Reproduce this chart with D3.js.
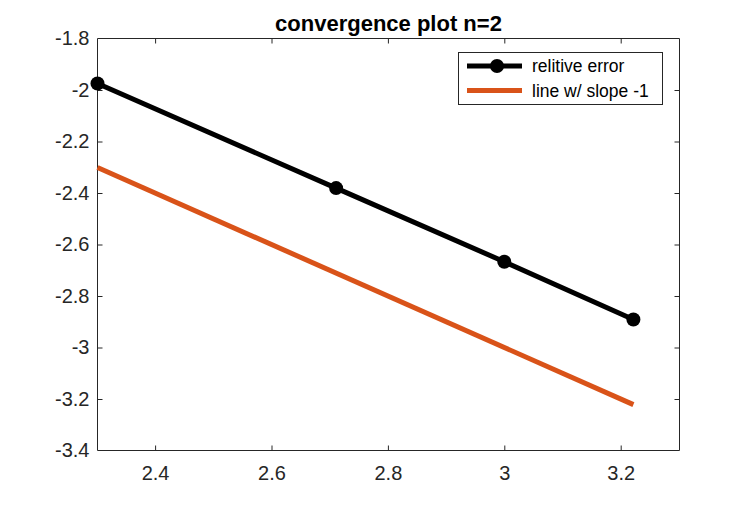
<!DOCTYPE html>
<html><head><meta charset="utf-8">
<script src="https://cdn.jsdelivr.net/npm/d3@7"></script>
<style>body{margin:0;background:#fff;}svg{display:block;}</style>
</head><body>
<svg id="c" width="750" height="506"></svg>
<script>
const xValues = [2.30103, 2.711, 3.0, 3.2218];
const errValues = [-1.975, -2.381, -2.667, -2.891];
const slopeX = [2.30103, 3.2218];
const slopeY = [-2.30103, -3.2218];
const xTicks = [2.4, 2.6, 2.8, 3, 3.2];
const yTicks = [-3.4, -3.2, -3, -2.8, -2.6, -2.4, -2.2, -2, -1.8];
const legendLabels = ["relitive error", "line w/ slope -1"];
const colors = ["#000000", "#D95319"];

const L = 97.5, R = 679.5, T = 38.5, B = 450.5;
const svg = d3.select("#c");
const x = d3.scaleLinear().domain([2.30103, 3.30103]).range([L, R]);
const y = d3.scaleLinear().domain([-3.4, -1.8]).range([B, T]);
const font = "'Liberation Sans', Arial, Helvetica, sans-serif";
const tc = "#262626";

const fmt = d => String(d);
const xb = svg.append("g").attr("transform", `translate(0,${B})`)
  .call(d3.axisBottom(x).tickValues(xTicks).tickSize(-5).tickPadding(15).tickFormat(fmt));
const xt = svg.append("g").attr("transform", `translate(0,${T})`)
  .call(d3.axisTop(x).tickValues(xTicks).tickSize(-5).tickFormat(""));
const yl = svg.append("g").attr("transform", `translate(${L},0)`)
  .call(d3.axisLeft(y).tickValues(yTicks).tickSize(-5).tickPadding(8).tickFormat(fmt));
const yr = svg.append("g").attr("transform", `translate(${R},0)`)
  .call(d3.axisRight(y).tickValues(yTicks).tickSize(-5).tickFormat(""));
[xb, xt, yl, yr].forEach(g => {
  g.selectAll("path.domain").attr("stroke", tc).attr("stroke-width", 1)
    .attr("d", g === xb || g === xt ? `M${L},0H${R}` : `M0,${T}V${B}`);
  g.selectAll(".tick line").attr("stroke", tc);
  g.selectAll(".tick text").attr("fill", tc).attr("font-family", font).attr("font-size", 20);
});
yl.selectAll(".tick line").filter(d => d === -3.4 || d === -1.8).remove();
yr.selectAll(".tick line").filter(d => d === -3.4 || d === -1.8).remove();

const line = d3.line().x(d => x(d[0])).y(d => y(d[1]));
const g = svg.append("g");
g.append("path").datum(slopeX.map((v, i) => [v, slopeY[i]]))
  .attr("d", line).attr("fill", "none").attr("stroke", colors[1]).attr("stroke-width", 5);
g.append("path").datum(xValues.map((v, i) => [v, errValues[i]]))
  .attr("d", line).attr("fill", "none").attr("stroke", colors[0]).attr("stroke-width", 5);
g.selectAll("circle.m").data(xValues.map((v, i) => [v, errValues[i]])).enter()
  .append("circle").attr("cx", d => x(d[0])).attr("cy", d => y(d[1])).attr("r", 7)
  .attr("fill", colors[0]);

svg.append("text").attr("x", (L + R) / 2).attr("y", 31).attr("text-anchor", "middle")
  .attr("font-family", font).attr("font-weight", "bold").attr("font-size", 22)
  .attr("fill", "#000").text("convergence plot n=2");

const lg = svg.append("g");
lg.append("rect").attr("x", 458.5).attr("y", 52.5).attr("width", 204).attr("height", 52)
  .attr("fill", "#fff").attr("stroke", tc).attr("stroke-width", 1);
legendLabels.forEach((lab, i) => {
  const yy = 66 + i * 24.5;
  lg.append("line").attr("x1", 467).attr("x2", 522).attr("y1", yy).attr("y2", yy)
    .attr("stroke", colors[i]).attr("stroke-width", 5);
  if (i === 0) lg.append("circle").attr("cx", 497).attr("cy", yy).attr("r", 7).attr("fill", colors[0]);
  lg.append("text").attr("x", 532).attr("y", yy + 6).attr("font-family", font)
    .attr("font-size", 17.5).attr("fill", "#000").text(lab);
});
</script>
</body></html>
